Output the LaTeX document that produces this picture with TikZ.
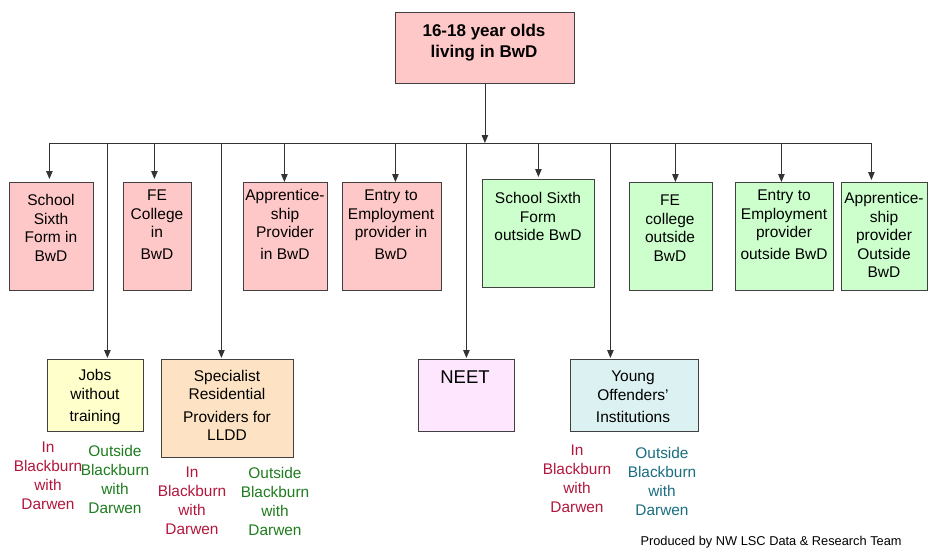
\documentclass[tikz,border=0pt]{standalone}
\usepackage{fontspec}
\setmainfont{Liberation Sans}
\usepackage{xcolor}
\usepackage{tikz}
\usetikzlibrary{arrows.meta}
\definecolor{inpink}{HTML}{FFC8C8}
\definecolor{outgreen}{HTML}{CCFFCC}
\definecolor{jobyellow}{HTML}{FFFFCC}
\definecolor{specpeach}{HTML}{FDE3C3}
\definecolor{neetpink}{HTML}{FFE6FF}
\definecolor{yoicyan}{HTML}{DCF1F1}
\definecolor{incol}{HTML}{B3173C}
\definecolor{outcol}{HTML}{1E7D1E}
\definecolor{yoicol}{HTML}{1A6E82}
\tikzstyle{box}=[rectangle,draw=black!75,line width=0.8pt,inner sep=0pt,anchor=north west]
\tikzstyle{inbox}=[box,fill=inpink,minimum height=108pt]
\tikzstyle{outbox}=[box,fill=outgreen,minimum height=108pt]
\tikzstyle{boxtext}=[align=center,inner sep=0pt,font=\fontsize{15.5}{18.5}\selectfont]
\tikzstyle{where}=[align=center,inner sep=0pt,font=\fontsize{15.4}{19}\selectfont]

\begin{document}
\begin{tikzpicture}[x=1pt,y=-1pt,>={Triangle[length=8pt,width=6.5pt]},line width=0.8pt]
        \path[use as bounding box,fill=white] (0,0) rectangle (929,552);

        % top box
        \node at (395,12) [box,fill=inpink,minimum width=179pt,minimum height=71pt] (top) {};
        \node at (484,42.5) [align=center,inner sep=0pt,font=\bfseries\fontsize{17}{21}\selectfont] (top-t) {16-18 year olds\\living in BwD};

        % upper row
        \node at (9,182)   [inbox,minimum width=84pt]  (sixin) {};
        \node at (123,182) [inbox,minimum width=68pt]  (fein) {};
        \node at (243,182) [inbox,minimum width=84pt]  (appin) {};
        \node at (342,182) [inbox,minimum width=99pt]  (e2ein) {};
        \node at (482,179) [outbox,minimum width=112pt] (sixout) {};
        \node at (629,182) [outbox,minimum width=83pt] (feout) {};
        \node at (735,182) [outbox,minimum width=98pt] (e2eout) {};
        \node at (841,182) [outbox,minimum width=86pt] (appout) {};

        \node at (51,228)    [boxtext] (sixin-t) {School\\Sixth\\Form in\\BwD};
        \node at (157,224.5) [boxtext] (fein-t) {FE\\College\\in\\[3pt]BwD};
        \node at (285,224.5) [boxtext] (appin-t) {Apprentice-\\ship\\Provider\\[3pt]in BwD};
        \node at (391,224.5) [boxtext] (e2ein-t) {Entry to\\Employment\\provider in\\[3pt]BwD};
        \node at (538,216.5) [boxtext] (sixout-t) {School Sixth\\Form\\outside BwD};
        \node at (670,228)   [boxtext] (feout-t) {FE\\college\\outside\\BwD};
        \node at (784,224.5) [boxtext] (e2eout-t) {Entry to\\Employment\\provider\\[3pt]outside BwD};
        \node at (884,235)   [boxtext] (appout-t) {Apprentice-\\ship\\provider\\Outside\\BwD};

        % lower row
        \node at (47,359)  [box,fill=jobyellow,minimum width=96pt,minimum height=72pt] (jobs) {};
        \node at (161,359) [box,fill=specpeach,minimum width=132pt,minimum height=98pt] (spec) {};
        \node at (418,359) [box,fill=neetpink,minimum width=96pt,minimum height=72pt] (neet) {};
        \node at (570,359) [box,fill=yoicyan,minimum width=128pt,minimum height=72pt] (yoi) {};

        \node at (95,397)    [boxtext] (jobs-t) {Jobs\\without\\[4pt]training};
        \node at (227,405.5) [boxtext] (spec-t) {Specialist\\Residential\\[4pt]Providers for\\LLDD};
        \node at (465,377)   [boxtext,font=\fontsize{18.5}{21}\selectfont] (neet-t) {NEET};
        \node at (633,397)   [boxtext] (yoi-t) {Young\\Offenders'\\[4pt]Institutions};

        % in / outside labels
        \node at (48,476)  [where,text=incol]  (jobs-in) {In\\Blackburn\\with\\Darwen};
        \node at (115,479) [where,text=outcol] (jobs-out) {Outside\\Blackburn\\with\\Darwen};
        \node at (192,501) [where,text=incol]  (spec-in) {In\\Blackburn\\with\\Darwen};
        \node at (275,501) [where,text=outcol] (spec-out) {Outside\\Blackburn\\with\\Darwen};
        \node at (577,479) [where,text=incol]  (yoi-in) {In\\Blackburn\\with\\Darwen};
        \node at (662,481) [where,text=yoicol] (yoi-out) {Outside\\Blackburn\\with\\Darwen};

        \node at (902,545) [anchor=base east,inner sep=0pt,font=\fontsize{12.8}{15}\selectfont] (credit) {Produced by NW LSC Data \& Research Team};

        % connectors
        \coordinate (busl) at (49,143);
        \coordinate (busr) at (871,143);
        \draw [black!80] (busl) -- (busr);
        \draw [->,black!80] (top.south) -- (top.south |- busl);

        \draw [->,black!80,shorten >=3pt] ([xshift=-2pt]sixin.north |- busl) -- ([xshift=-2pt]sixin.north);
        \draw [->,black!80,shorten >=3pt] ([xshift=-3pt]fein.north |- busl) -- ([xshift=-3pt]fein.north);
        \draw [->,black!80] ([xshift=-1pt]appin.north |- busl) -- ([xshift=-1pt]appin.north);
        \draw [->,black!80] ([xshift=3.5pt]e2ein.north |- busl) -- ([xshift=3.5pt]e2ein.north);
        \draw [->,black!80,shorten >=2pt] (sixout.north |- busl) -- (sixout.north);
        \draw [->,black!80] ([xshift=4.5pt]feout.north |- busl) -- ([xshift=4.5pt]feout.north);
        \draw [->,black!80] ([xshift=-3pt]e2eout.north |- busl) -- ([xshift=-3pt]e2eout.north);
        \draw [->,black!80,shorten >=2pt] ([xshift=-13pt]appout.north |- busl) -- ([xshift=-13pt]appout.north);

        \draw [->,black!80,shorten >=1pt] ([xshift=12pt]jobs.north |- busl) -- ([xshift=12pt]jobs.north);
        \draw [->,black!80,shorten >=1pt] ([xshift=-6pt]spec.north |- busl) -- ([xshift=-6pt]spec.north);
        \draw [->,black!80,shorten >=1pt] (neet.north |- busl) -- (neet.north);
        \draw [->,black!80,shorten >=1pt] ([xshift=-24pt]yoi.north |- busl) -- ([xshift=-24pt]yoi.north);
      \end{tikzpicture}
\end{document}
